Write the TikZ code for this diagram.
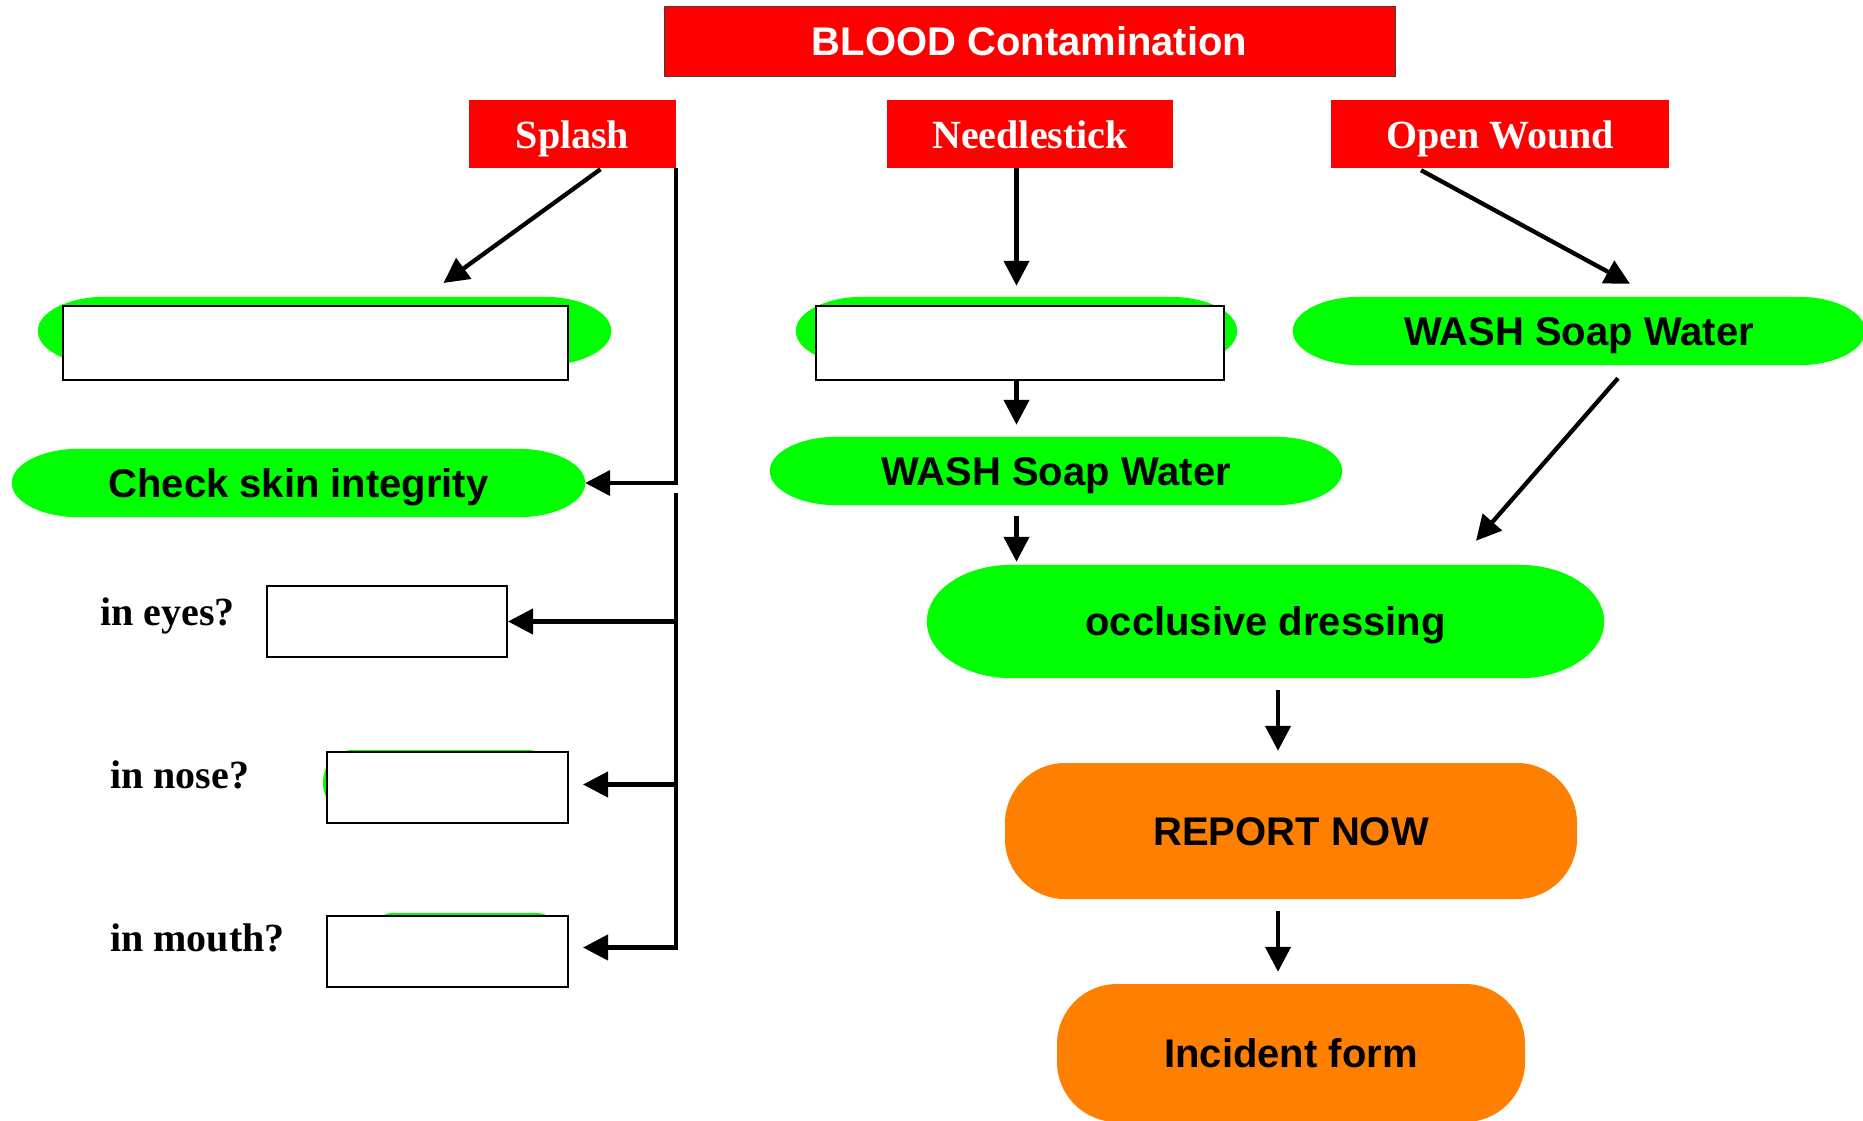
\documentclass[tikz,border=0pt]{standalone}
\usepackage{fontspec}
\setmainfont{Liberation Serif}
\newfontfamily\arialf{Liberation Sans}
\usetikzlibrary{arrows.meta,calc}
\definecolor{gr}{RGB}{0,255,0}
\definecolor{rd}{RGB}{255,0,0}
\definecolor{orng}{RGB}{255,128,0}
\pgfdeclarelayer{bg}
\pgfsetlayers{bg,main}
% pill with elliptical ends behind a named node
\newcommand\pillbg[3]{%
  \fill[#3] let \p1=(#1.north west), \p2=(#1.south east), \n1={(\y1-\y2)/2} in
  (\x1+#2,\y1) -- (\x2-#2,\y1)
  arc[start angle=90,end angle=-90,x radius=#2,y radius={\n1*1pt}]
  -- (\x1+#2,\y2)
  arc[start angle=270,end angle=90,x radius=#2,y radius={\n1*1pt}] -- cycle;}
% pill from explicit image coordinates
\newcommand\pillxy[6]{%
  \fill[#6] ({#1+#5},#2) -- ({#3-#5},#2)
  arc[start angle=90,end angle=-90,x radius=#5pt,y radius={(#4-#2)/2*1pt}]
  -- ({#1+#5},#4)
  arc[start angle=270,end angle=90,x radius=#5pt,y radius={(#4-#2)/2*1pt}] -- cycle;}
\tikzset{
  sans/.style={font=\arialf\bfseries\fontsize{40}{48}\selectfont, text height=28.6pt, text depth=0pt, inner sep=0pt},
  serif/.style={font=\bfseries\fontsize{40}{48}\selectfont, text height=28pt, text depth=0pt, inner sep=0pt},
  redbox/.style={serif, fill=rd, text=white},
  pill/.style={sans, text=black},
  wbox/.style={draw=black, line width=2pt, fill=white, inner sep=0pt},
  orbox/.style={sans, fill=orng, rounded corners=60pt},
  conn/.style={line width=4.3pt, -{Triangle[length=25pt,width=25pt]}},
}
\begin{document}
\begin{tikzpicture}[x=1pt,y=-1pt]
\useasboundingbox (0,0) rectangle (1863,1120);
\begin{pgfonlayer}{bg}
  \fill[white] (0,0) rectangle (1863,1120);
\end{pgfonlayer}

% header
\node[sans, fill=rd, text=white, draw=black!75, line width=1pt,
      minimum width=731pt, minimum height=70pt] (blood) at (1029.5,41) {BLOOD Contamination};
\node[redbox, minimum width=207pt, minimum height=68pt] (splash) at (572.5,134) {Splash};
\node[redbox, minimum width=286pt, minimum height=68pt] (needle) at (1030,134) {Needlestick};
\node[redbox, minimum width=338pt, minimum height=68pt] (ow) at (1500,134) {Open Wound};

% left column
\node[pill, minimum width=573pt, minimum height=68pt] (leftell) at (324.5,331) {};
\node[wbox, minimum width=505pt, minimum height=74pt] (leftbox) at (315.5,343) {};
\node[pill, minimum width=573pt, minimum height=68pt] (check) at (298.5,483) {Check skin integrity};
\node[wbox, minimum width=240pt, minimum height=71pt] (eyes) at (387,621.5) {};
\node[wbox, minimum width=241pt, minimum height=71pt] (nose) at (447.5,787.5) {};
\node[wbox, minimum width=241pt, minimum height=71pt] (mouth) at (447.5,951.5) {};
\node[serif, anchor=base west] (leyes) at (100,625) {in eyes?};
\node[serif, anchor=base west] (lnose) at (110,788) {in nose?};
\node[serif, anchor=base west] (lmouth) at (110,951) {in mouth?};

% middle column
\node[pill, minimum width=441pt, minimum height=68pt] (midell) at (1016.5,331) {};
\node[wbox, minimum width=408pt, minimum height=74pt] (midbox) at (1020,343) {};
\node[pill, minimum width=572pt, minimum height=68pt] (wash1) at (1056,471) {WASH Soap Water};
\node[pill, minimum width=677pt, minimum height=113pt] (occl) at (1265.5,621.5) {occlusive dressing};
\node[orbox, minimum width=572pt, minimum height=136pt] (report) at (1291,831) {REPORT NOW};
\node[orbox, minimum width=468pt, minimum height=138pt] (incident) at (1291,1053) {Incident form};

% right column
\node[pill, minimum width=572pt, minimum height=68pt] (wash2) at (1579,331) {WASH Soap Water};

% green backgrounds
\begin{pgfonlayer}{bg}
  \pillbg{leftell}{67pt}{gr}
  \pillbg{check}{67pt}{gr}
  \pillbg{midell}{67pt}{gr}
  \pillbg{wash1}{67pt}{gr}
  \pillbg{wash2}{67pt}{gr}
  \pillbg{occl}{85pt}{gr}
  \pillxy{323}{750}{558}{815}{30}{gr}
  \pillxy{365}{913}{565}{980}{28}{gr}
\end{pgfonlayer}

% connectors: splash
\draw[conn] ($(splash.south)+(28,1)$) -- ($(leftbox.north)+(128,-22)$);
\draw[conn] (splash.south east) |- (check.east);
\coordinate (trunk) at ($(splash.south east)+(0,325)$);
\draw[conn] (trunk) |- ($(mouth.east)+(14,-4)$);
\draw[conn] (trunk |- eyes.east) -- (eyes.east);
\draw[conn] ($(trunk |- nose.east)+(0,-3)$) -- ($(nose.east)+(14,-3)$);

% connectors: needlestick
\draw[conn] (midell.north |- needle.south) -- ($(midell.north)+(0,-11)$);
\draw[conn] (midell.center |- midbox.south) -- ($(midell.center |- wash1.north)+(0,-12)$);
\draw[conn] ($(midell.center |- wash1.south)+(0,11)$) -- ($(midell.center |- occl.north)+(0,-3)$);
\draw[conn] ($(occl.south -| report.north)+(-13,12)$) -- ($(report.north)+(-13,-12)$);
\draw[conn] ($(report.south)+(-13,12)$) -- ($(incident.north)+(-13,-12)$);

% connectors: open wound
\draw[conn] ($(ow.south)+(-79,2)$) -- ($(wash2.north)+(51,-13)$);
\draw[conn] ($(wash2.south)+(39,13)$) -- ($(occl.north)+(210.5,-24)$);
\end{tikzpicture}
\end{document}
